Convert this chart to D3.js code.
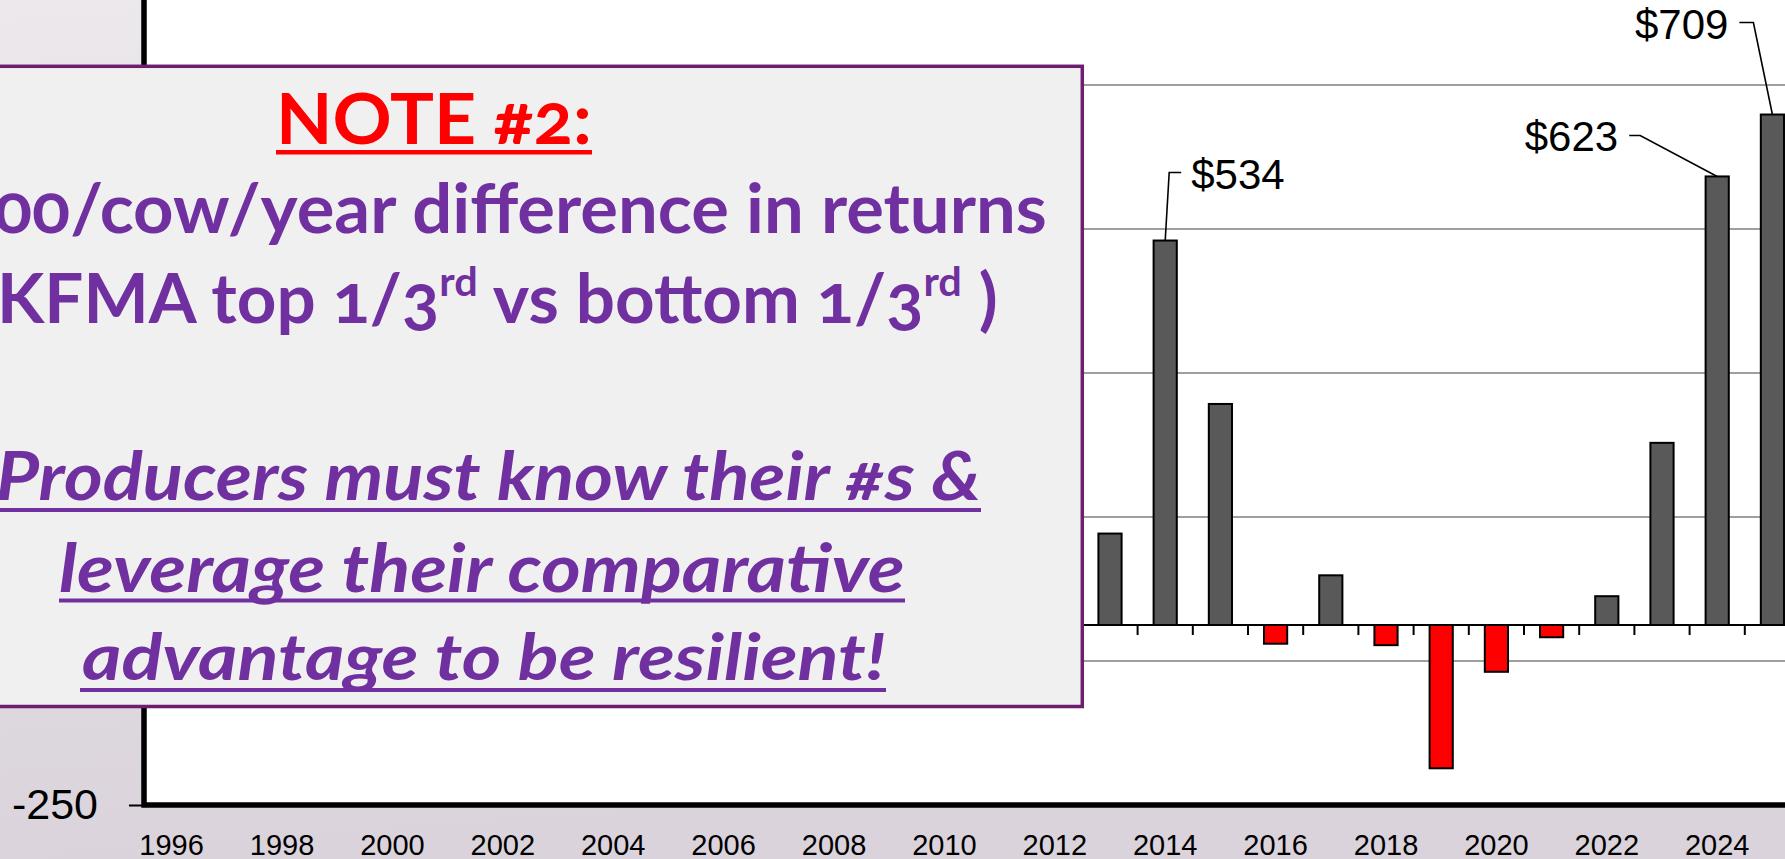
<!DOCTYPE html>
<html>
<head>
<meta charset="utf-8">
<script src="https://cdn.jsdelivr.net/npm/d3@7"></script>
<style>
  html, body { margin: 0; padding: 0; overflow: hidden; background: #e4dfe5; }
  svg { display: block; }
</style>
</head>
<body>
<script>
// categories on the band axis (one slot per year)
const allYears = [1996, 1997, 1998, 1999, 2000, 2001, 2002, 2003, 2004, 2005,
                  2006, 2007, 2008, 2009, 2010, 2011, 2012, 2013, 2014, 2015,
                  2016, 2017, 2018, 2019, 2020, 2021, 2022, 2023, 2024, 2025];
// years with a value, and the top 1/3 minus bottom 1/3 difference ($/cow)
const barYears = [2013, 2014, 2015, 2016, 2017, 2018, 2019, 2020, 2021, 2022, 2023, 2024, 2025];
const returnDiff = [127, 534, 307, -26, 69, -28, -199, -65, -17, 40, 253, 623, 709];
const xTickYears = [1996, 1998, 2000, 2002, 2004, 2006, 2008, 2010, 2012, 2014, 2016, 2018, 2020, 2022, 2024];
const yTickValues = [-250, -50, 150, 350, 550, 750, 950];
const calloutYears = [2014, 2024, 2025];

const noteTitle = "NOTE #2:";
const noteLine1 = "00/cow/year difference in returns";
const noteLine2 = [{ t: "(KFMA top 1/3" }, { sup: "rd" }, { t: " vs bottom 1/3" }, { sup: "rd" }, { t: " )" }];
const noteLine3 = "Producers must know their #s &";
const noteLine4 = "leverage their comparative";
const noteLine5 = "advantage to be resilient!";

const width = 1785, height = 859;
const plotLeft = 144, plotBottom = 805, band = 55.2, pxPerDollar = 0.72;
const box = { x: -20, y: 66.3, w: 1102.3, h: 640.2 };

const svg = d3.select("body").append("svg")
    .attr("width", width)
    .attr("height", height);

const defs = svg.append("defs");
const grad = defs.append("linearGradient")
    .attr("id", "bg").attr("x1", 0).attr("y1", 0).attr("x2", 0.15).attr("y2", 1);
grad.append("stop").attr("offset", "0%").attr("stop-color", "#ece8ec");
grad.append("stop").attr("offset", "100%").attr("stop-color", "#dad3db");

svg.append("rect").attr("width", width).attr("height", height).attr("fill", "url(#bg)");

var x = d3.scaleBand()
    .domain(allYears)
    .range([plotLeft, plotLeft + band * allYears.length]);
var y = d3.scaleLinear()
    .domain([-250, 950])
    .range([plotBottom, plotBottom - 1200 * pxPerDollar]);

// plot area
svg.append("rect")
    .attr("x", plotLeft).attr("y", 0)
    .attr("width", width - plotLeft).attr("height", plotBottom)
    .attr("fill", "#fff");

// gridlines
svg.append("g").selectAll("line")
  .data(yTickValues.filter(v => v !== -250))
  .join("line")
    .attr("x1", plotLeft).attr("x2", width)
    .attr("y1", d => y(d)).attr("y2", d => y(d))
    .attr("stroke", "#9f9f9f")
    .attr("stroke-width", 2);

// category axis crossing at zero
svg.append("line")
    .attr("x1", plotLeft).attr("x2", width)
    .attr("y1", y(0)).attr("y2", y(0))
    .attr("stroke", "#000").attr("stroke-width", 2);
svg.append("g").selectAll("line")
  .data(allYears.slice(1))
  .join("line")
    .attr("x1", d => x(d)).attr("x2", d => x(d))
    .attr("y1", y(0)).attr("y2", y(0) + 10)
    .attr("stroke", "#000").attr("stroke-width", 2);

// bars
const barData = barYears.map((yr, i) => ({ year: yr, value: returnDiff[i] }));
const barW = x.bandwidth() * 0.42;
svg.append("g").selectAll("rect")
  .data(barData)
  .join("rect")
    .attr("x", d => x(d.year) + (x.bandwidth() - barW) / 2)
    .attr("y", d => y(Math.max(0, d.value)))
    .attr("width", barW)
    .attr("height", d => Math.abs(y(d.value) - y(0)))
    .attr("fill", d => d.value < 0 ? "#ff0000" : "#595959")
    .attr("stroke", "#000")
    .attr("stroke-width", 2);

// value axis (labels under the note box are not shown in the original)
const yAxis = svg.append("g")
    .attr("transform", `translate(${plotLeft},0)`)
    .call(d3.axisLeft(y).tickValues(yTickValues).tickSize(15).tickPadding(31).tickSizeOuter(0)
      .tickFormat(d => String(d)));
yAxis.select(".domain").remove();
yAxis.selectAll(".tick line").attr("stroke", "#000").attr("stroke-width", 2);
yAxis.selectAll(".tick")
  .filter(d => y(d) > box.y && y(d) < box.y + box.h || y(d) < 0)
  .remove();
yAxis.selectAll(".tick text")
    .attr("font-family", "'Liberation Sans', Arial, sans-serif")
    .attr("font-size", 43)
    .attr("fill", "#000");

// year labels along the bottom
const xAxis = svg.append("g")
    .attr("transform", `translate(0,${plotBottom})`)
    .call(d3.axisBottom(x).tickValues(xTickYears).tickSize(0).tickPadding(29).tickSizeOuter(0));
xAxis.select(".domain").remove();
xAxis.selectAll(".tick text")
    .attr("font-family", "'Liberation Sans', Arial, sans-serif")
    .attr("font-size", 29)
    .attr("fill", "#000");

// plot frame (left + bottom)
svg.append("path")
    .attr("d", `M${plotLeft},0V${plotBottom}H${width}`)
    .attr("fill", "none")
    .attr("stroke", "#000")
    .attr("stroke-width", 5.5)
    .attr("stroke-linejoin", "miter");

// callouts for the large values
const calloutLayout = {
  2014: { dx: 4, dy: -68, hx: 16, side: "right" },
  2024: { dx: -77, dy: -41, hx: -88, side: "left" },
  2025: { dx: -19, dy: -92, hx: -33, side: "left" }
};
const callouts = svg.append("g");
calloutYears.forEach(yr => {
  const v = returnDiff[barYears.indexOf(yr)];
  const L = calloutLayout[yr];
  const cx = x(yr) + x.bandwidth() / 2, cy = y(v);
  const ex = cx + L.dx, ey = cy + L.dy, hx = cx + L.hx;
  callouts.append("path")
      .attr("d", `M${cx},${cy}L${ex},${ey}H${hx}`)
      .attr("fill", "none")
      .attr("stroke", "#000")
      .attr("stroke-width", 1.6);
  callouts.append("text")
      .attr("x", L.side === "right" ? hx + 10 : hx - 11)
      .attr("y", ey + 16)
      .attr("text-anchor", L.side === "right" ? "start" : "end")
      .attr("font-family", "'Liberation Sans', Arial, sans-serif")
      .attr("font-size", 42)
      .attr("fill", "#000")
      .text("$" + v);
});

// note box
const note = svg.append("g");
note.append("rect")
    .attr("x", box.x).attr("y", box.y)
    .attr("width", box.w).attr("height", box.h)
    .attr("fill", "#f0f0f0")
    .attr("stroke", "#6e1e70")
    .attr("stroke-width", 3.5);

const purple = "#7030a0";
const noteLayout = [
  { parts: [{ t: noteTitle }], x0: 276, x1: 592, y: 144, size: 71, color: "#ff0000", ul: [276, 592, 150, 4.5] },
  { parts: [{ t: noteLine1 }], x0: -6, x1: 1047, y: 233, size: 68, color: purple },
  { parts: noteLine2, x0: -3, x1: 998, y: 323, size: 68, color: purple, skip: 1 },
  { parts: [{ t: noteLine3 }], x0: -4, x1: 981, y: 500, size: 66, color: purple, italic: true, ul: [0, 981, 508, 4] },
  { parts: [{ t: noteLine4 }], x0: 59, x1: 905, y: 592, size: 66, color: purple, italic: true, ul: [59, 905, 598.5, 4] },
  { parts: [{ t: noteLine5 }], x0: 82, x1: 886, y: 680, size: 66, color: purple, italic: true, ul: [80, 886, 688, 4] }
];

noteLayout.forEach(cfg => {
  const t = note.append("text")
      .attr("font-family", "Lato, 'Open Sans', 'Noto Sans', sans-serif")
      .attr("font-weight", 700)
      .attr("font-style", cfg.italic ? "italic" : "normal")
      .attr("font-size", cfg.size)
      .attr("fill", cfg.color)
      .style("font-variant-numeric", "oldstyle-nums");
  let shift = 0;
  cfg.parts.forEach(p => {
    if (p.sup) {
      shift = cfg.size * 0.4;
      t.append("tspan").attr("font-size", cfg.size * 0.6).attr("dy", -shift).text(p.sup);
    } else {
      t.append("tspan").attr("dy", shift).text(p.t);
      shift = 0;
    }
  });
  const full = t.node().getComputedTextLength();
  const skip = cfg.skip ? t.node().getSubStringLength(0, cfg.skip) : 0;
  const sx = (cfg.x1 - cfg.x0) / (full - skip);
  t.attr("transform", `translate(${cfg.x0 - skip * sx},${cfg.y}) scale(${sx},1)`);
  if (cfg.ul) {
    note.append("rect")
        .attr("x", cfg.ul[0]).attr("y", cfg.ul[2])
        .attr("width", cfg.ul[1] - cfg.ul[0]).attr("height", cfg.ul[3])
        .attr("fill", cfg.color);
  }
});
</script>
</body>
</html>
